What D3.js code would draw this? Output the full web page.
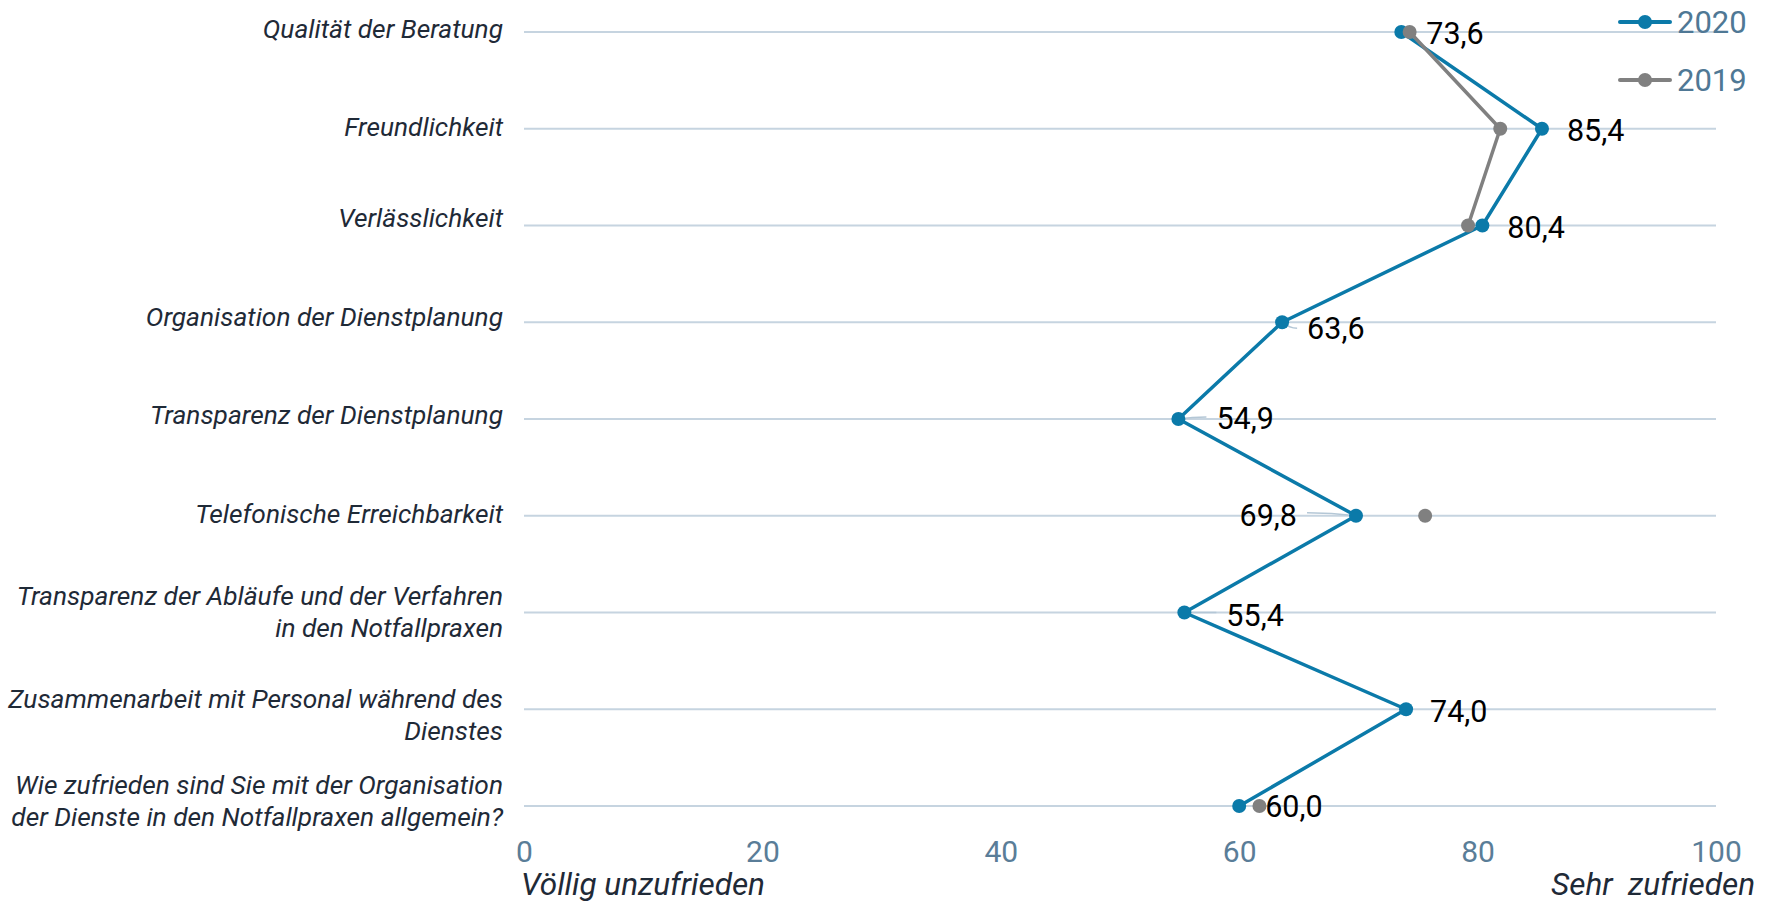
<!DOCTYPE html>
<html lang="de">
<head>
<meta charset="utf-8">
<title>Zufriedenheit mit der Organisation der Dienste</title>
<script src="https://cdn.jsdelivr.net/npm/d3@7"></script>
<style>
  html, body { margin: 0; padding: 0; background: #ffffff; }
  svg { display: block; font-family: Roboto, "Noto Sans", sans-serif; }
</style>
</head>
<body>
<svg id="chart" width="1772" height="903"></svg>
<script>
// Survey items (rows, top to bottom); "\n" marks a line break in the label
const categories = [
  "Qualität der Beratung",
  "Freundlichkeit",
  "Verlässlichkeit",
  "Organisation der Dienstplanung",
  "Transparenz der Dienstplanung",
  "Telefonische Erreichbarkeit",
  "Transparenz der Abläufe und der Verfahren\nin den Notfallpraxen",
  "Zusammenarbeit mit Personal während des\nDienstes",
  "Wie zufrieden sind Sie mit der Organisation\nder Dienste in den Notfallpraxen allgemein?"
];

// Mean satisfaction scores (0 = völlig unzufrieden, 100 = sehr zufrieden)
const values2020 = [73.6, 85.4, 80.4, 63.6, 54.9, 69.8, 55.4, 74.0, 60.0];
const values2019 = [74.3, 81.9, 79.2, null, null, 75.6, null, null, 61.7];

const seriesNames = ["2020", "2019"];
const xTicks = [0, 20, 40, 60, 80, 100];
const axisEndLabels = ["Völlig unzufrieden", "Sehr  zufrieden"];

// Layout of the value labels next to the 2020 points:
// dx/dy = text offset from the point, lead = end of the connector line (or null)
const valueLabelLayout = [
  { dx: 25, dy: 12, anchor: "start", lead: null },
  { dx: 25, dy: 12, anchor: "start", lead: null },
  { dx: 25, dy: 12, anchor: "start", lead: null },
  { dx: 25, dy: 17, anchor: "start", lead: [15, 6] },
  { dx: 38, dy: 10, anchor: "start", lead: [28, -2] },
  { dx: -59, dy: 10, anchor: "end", lead: [-49, -3] },
  { dx: 42, dy: 13, anchor: "start", lead: [32, 0] },
  { dx: 24, dy: 13, anchor: "start", lead: null },
  { dx: 26, dy: 11, anchor: "start", lead: null }
];
// Baseline offset of the first line of each category label from its row
const categoryLabelShift = [6, 7, 1, 4, 5, 7, -8, -1, -12];

const colors = { s2020: "#0b7aa9", s2019: "#808080", grid: "#c6d4e0",
                 tick: "#5a7d98", cat: "#1f2a37", value: "#000000", leader: "#b4c7d6" };

const svg = d3.select("#chart");

const x = d3.scaleLinear().domain([0, 100]).range([524, 1716]);
const y = d3.scalePoint().domain(d3.range(categories.length)).range([32, 806]);

// Horizontal grid lines, one per item
svg.append("g")
  .selectAll("line")
  .data(categories)
  .join("line")
  .attr("x1", x(0)).attr("x2", x(100))
  .attr("y1", (d, i) => y(i)).attr("y2", (d, i) => y(i))
  .attr("stroke", colors.grid).attr("stroke-width", 2);

// Category labels (right aligned, italic)
const catG = svg.append("g")
  .attr("font-style", "italic").attr("font-size", 26.3)
  .attr("fill", colors.cat).attr("text-anchor", "end");
categories.forEach((c, i) => {
  const t = catG.append("text")
    .attr("x", 503)
    .attr("y", y(i) + categoryLabelShift[i]);
  c.split("\n").forEach((line, k) => {
    t.append("tspan").attr("x", 503).attr("dy", k === 0 ? 0 : 32).text(line);
  });
});

// X axis ticks
const xAxis = d3.axisBottom(x).tickValues(xTicks).tickSize(0).tickPadding(0)
  .tickFormat(d3.format("d"));
const axG = svg.append("g").attr("transform", "translate(0,839)").call(xAxis);
axG.select(".domain").remove();
axG.selectAll("text")
  .attr("font-family", "Roboto, sans-serif")
  .attr("font-size", 30).attr("fill", colors.tick)
  .attr("dy", "0.77em");

// Scale end descriptions
svg.append("text")
  .attr("x", 521).attr("y", 895)
  .attr("font-style", "italic").attr("font-size", 31.5).attr("fill", colors.cat)
  .text(axisEndLabels[0]);
svg.append("text")
  .attr("x", 1755).attr("y", 895).attr("text-anchor", "end")
  .attr("font-style", "italic").attr("font-size", 31.5).attr("fill", colors.cat)
  .style("white-space", "pre").attr("xml:space", "preserve")
  .text(axisEndLabels[1]);

const line = d3.line()
  .defined(d => d != null)
  .x(d => x(d))
  .y((d, i) => y(i));

// Lines
svg.append("path").datum(values2020)
  .attr("d", line).attr("fill", "none")
  .attr("stroke", colors.s2020).attr("stroke-width", 3.5).attr("stroke-linejoin", "round");
svg.append("path").datum(values2019)
  .attr("d", line).attr("fill", "none")
  .attr("stroke", colors.s2019).attr("stroke-width", 3.5).attr("stroke-linejoin", "round");

// Connector lines for shifted value labels
svg.append("g")
  .selectAll("path")
  .data(values2020.map((v, i) => ({ v, i, L: valueLabelLayout[i] })).filter(d => d.L.lead))
  .join("path")
  .attr("d", d => {
    const x0 = x(d.v), y0 = y(d.i);
    const x1 = x0 + d.L.lead[0], y1 = y0 + d.L.lead[1];
    return `M${x0},${y0} Q${(x0 + x1) / 2},${y1} ${x1},${y1}`;
  })
  .attr("fill", "none").attr("stroke", colors.leader).attr("stroke-width", 1.6);

// Points
svg.append("g")
  .selectAll("circle")
  .data(values2020.map((v, i) => ({ v, i })))
  .join("circle")
  .attr("cx", d => x(d.v)).attr("cy", d => y(d.i)).attr("r", 7)
  .attr("fill", colors.s2020);
svg.append("g")
  .selectAll("circle")
  .data(values2019.map((v, i) => ({ v, i })).filter(d => d.v != null))
  .join("circle")
  .attr("cx", d => x(d.v)).attr("cy", d => y(d.i)).attr("r", 7)
  .attr("fill", colors.s2019);

// Value labels for 2020
const fmt = v => d3.format(".1f")(v).replace(".", ",");
svg.append("g")
  .attr("font-size", 30.5).attr("fill", colors.value)
  .selectAll("text")
  .data(values2020.map((v, i) => ({ v, i, L: valueLabelLayout[i] })))
  .join("text")
  .attr("x", d => x(d.v) + d.L.dx)
  .attr("y", d => y(d.i) + d.L.dy)
  .attr("text-anchor", d => d.L.anchor)
  .text(d => fmt(d.v));

// Legend
const legend = svg.append("g");
const legendRows = [
  { name: seriesNames[0], color: colors.s2020, y: 22 },
  { name: seriesNames[1], color: colors.s2019, y: 80 }
];
legendRows.forEach(r => {
  legend.append("line")
    .attr("x1", 1620).attr("x2", 1670).attr("y1", r.y).attr("y2", r.y)
    .attr("stroke", r.color).attr("stroke-width", 4).attr("stroke-linecap", "round");
  legend.append("circle").attr("cx", 1645).attr("cy", r.y).attr("r", 7).attr("fill", r.color);
  legend.append("text")
    .attr("x", 1677).attr("y", r.y + 11)
    .attr("font-size", 31).attr("fill", "#4f7895")
    .text(r.name);
});
</script>
</body>
</html>
